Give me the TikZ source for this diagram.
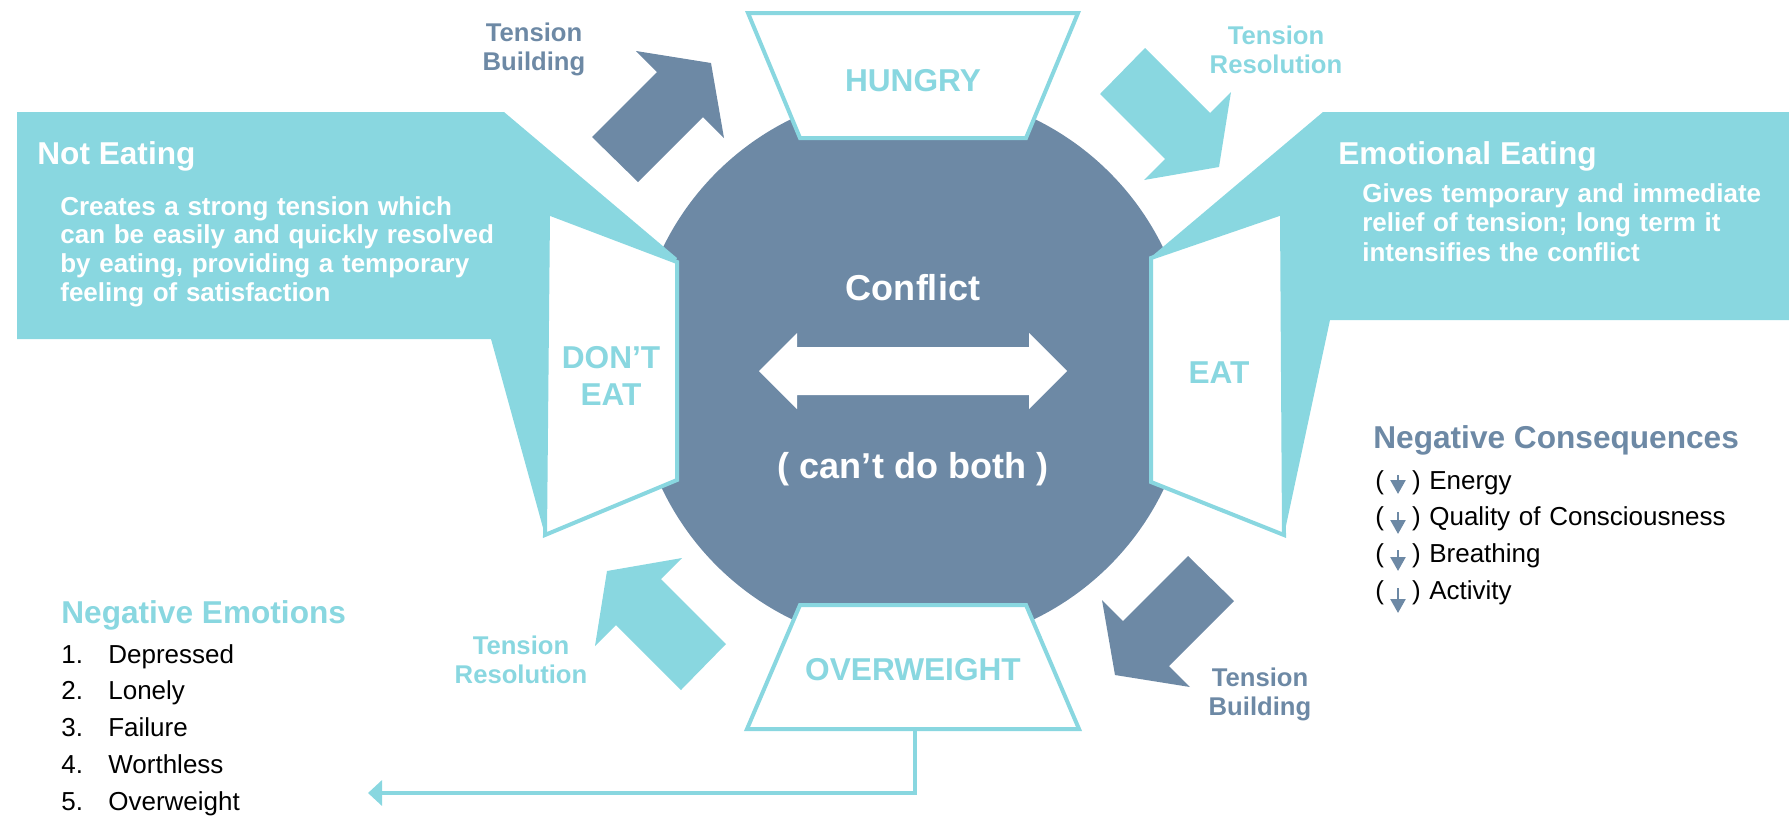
\documentclass[tikz,border=0pt]{standalone}
\usepackage{fontspec}
\setmainfont{Liberation Sans}
\usepackage{xcolor}
\definecolor{Calm-slate}{RGB}{109, 137, 165}
\definecolor{Calm-aqua}{RGB}{137, 215, 224}
\usetikzlibrary{arrows.meta,positioning,calc}

\begin{document}
\begin{tikzpicture} [ % styles for each kind of element
            x=0.02cm, y=-0.02cm,
            bubble/.style = {fill=Calm-aqua},
            panel/.style = {fill=white, draw=Calm-aqua, line width=0.08cm},
            capword/.style = {text=Calm-aqua, align=center, inner sep=0pt, font=\fontsize{18}{21}\selectfont\bfseries},
            tensionlabel/.style = {align=center, inner sep=0pt, font=\fontsize{14.6}{16.5}\selectfont\bfseries},
            titleline/.style = {anchor=base west, inner sep=0pt, font=\fontsize{18}{21}\selectfont\bfseries},
            bodytext/.style = {anchor=base west, inner sep=0pt, text=white, text width=9.4cm, align=left,
                           font=\fontsize{14.8}{16.5}\selectfont\bfseries},
            itemlist/.style = {anchor=base west, inner sep=0pt, text width=8cm, align=left,
                            font=\fontsize{14.8}{21}\selectfont},
            bigword/.style = {anchor=base, inner sep=0pt, text=white, font=\fontsize{20.5}{24}\selectfont\bfseries},
            flowlink/.style = {draw=Calm-aqua, line width=0.08cm, -{Triangle[length=0.28cm, width=0.5cm]}},
            downarrow/.style = {draw=Calm-slate, line width=0.05cm, -{Triangle[length=0.28cm, width=0.3cm]}}
        ]

        \useasboundingbox (0,0) rectangle (1789,816);

        % circle in the middle
        \node [circle, fill=Calm-slate, minimum size=11.12cm, inner sep=0pt] (clash) at (913,369) {};

        % bubbles left and right
        \fill [bubble] (17,112) -- (504,112) -- (677,258) -- (545,535) -- (491,339) -- (17,339) -- cycle;
        \fill [bubble] (1789,112) -- (1323,112) -- (1151,257) -- (1284,535) -- (1330,320) -- (1789,320) -- cycle;

        % side panels
        \path [panel] (548,213) -- (677,262) -- (677,480) -- (545,535) -- cycle;
        \path [panel] (1282,213) -- (1151,258) -- (1151,482) -- (1284,535) -- cycle;

        % top and bottom trapezoids
        \path [panel] (748,13) -- (1078,13) -- (1026,138) -- (800,138) -- cycle;
        \path [panel] (800,605) -- (1026,605) -- (1079,729) -- (747,729) -- cycle;
        \coordinate (owfoot) at (915,729);

        % tension arrows
        \fill [Calm-slate] (711,63) -- (724,138) -- (703,117) -- (638,182) -- (592,137) -- (657,72) -- (636,51) -- cycle;
        \fill [Calm-aqua, rotate around={-90:(913,369)}] (711,63) -- (724,138) -- (703,117) -- (638,182) -- (592,137) -- (657,72) -- (636,51) -- cycle;
        \fill [Calm-slate, rotate around={180:(913,369)}] (711,63) -- (724,138) -- (703,117) -- (638,182) -- (592,137) -- (657,72) -- (636,51) -- cycle;
        \fill [Calm-aqua, rotate around={90:(913,369)}] (711,63) -- (724,138) -- (703,117) -- (638,182) -- (592,137) -- (657,72) -- (636,51) -- cycle;

        % double arrow
        \fill [white] (759,371) -- (797,333) -- (797,347) -- (1029,347) -- (1029,333) -- (1067,371)
            -- (1029,409) -- (1029,395) -- (797,395) -- (797,409) -- cycle;

        % texts in the circle and panels
        \node [bigword] (conflict) at (913,300) {Conflict};
        \node [bigword] (both) at (913,478) {( can’t do both )};
        \node [capword] (hungry) at (913,81) {HUNGRY};
        \node [capword] (overweight) at (913,669.5) {OVERWEIGHT};
        \node [capword] (donteat) at (611,375.5) {DON’T\\EAT};
        \node [capword] (eat) at (1219,373) {EAT};

        \node [tensionlabel, text=Calm-slate] (build1) at (534,49) {Tension\\Building};
        \node [tensionlabel, text=Calm-aqua] (resol1) at (1276,49.4) {Tension\\Resolution};
        \node [tensionlabel, text=Calm-slate] (build2) at (1260,694.5) {Tension\\Building};
        \node [tensionlabel, text=Calm-aqua] (resol2) at (521,660) {Tension\\Resolution};

        % bubble texts
        \node [titleline, text=white] (noteat) at (37,164) {Not Eating};
        \node [bodytext] (noteattxt) at (60,215) {Creates a strong tension which\\can be easily and quickly resolved\\by eating, providing a temporary\\feeling of satisfaction};
        \node [titleline, text=white] (emoeat) at (1338,164) {Emotional Eating};
        \node [bodytext, font=\fontsize{14.8}{17}\selectfont\bfseries] (emoeattxt) at (1362,202) {Gives temporary and immediate\\relief of tension; long term it\\intensifies the conflict};

        % lists
        \node [titleline, text=Calm-aqua] (negemo) at (61,623) {Negative Emotions};
        \node [itemlist] (emolist) at (61,663) {\makebox[0.94cm][l]{1.}Depressed\\\makebox[0.94cm][l]{2.}Lonely\\\makebox[0.94cm][l]{3.}Failure\\\makebox[0.94cm][l]{4.}Worthless\\\makebox[0.94cm][l]{5.}Overweight};
        \node [titleline, text=Calm-slate] (negcon) at (1373,448) {Negative Consequences};
        \node [itemlist] (conlist) at (1375,489) {(\hspace{0.56cm})~Energy\\(\hspace{0.56cm})~Quality of Consciousness\\(\hspace{0.56cm})~Breathing\\(\hspace{0.56cm})~Activity};

        \draw [downarrow] (1398,475) -- (1398,494);
        \draw [downarrow] (1398,512) -- (1398,534);
        \draw [downarrow] (1398,550) -- (1398,571);
        \draw [downarrow] (1398,588) -- (1398,613);

        % connector
        \coordinate (emotip) at (368,793);
        \draw [flowlink] (owfoot) |- (emotip);

    \end{tikzpicture}
\end{document}
